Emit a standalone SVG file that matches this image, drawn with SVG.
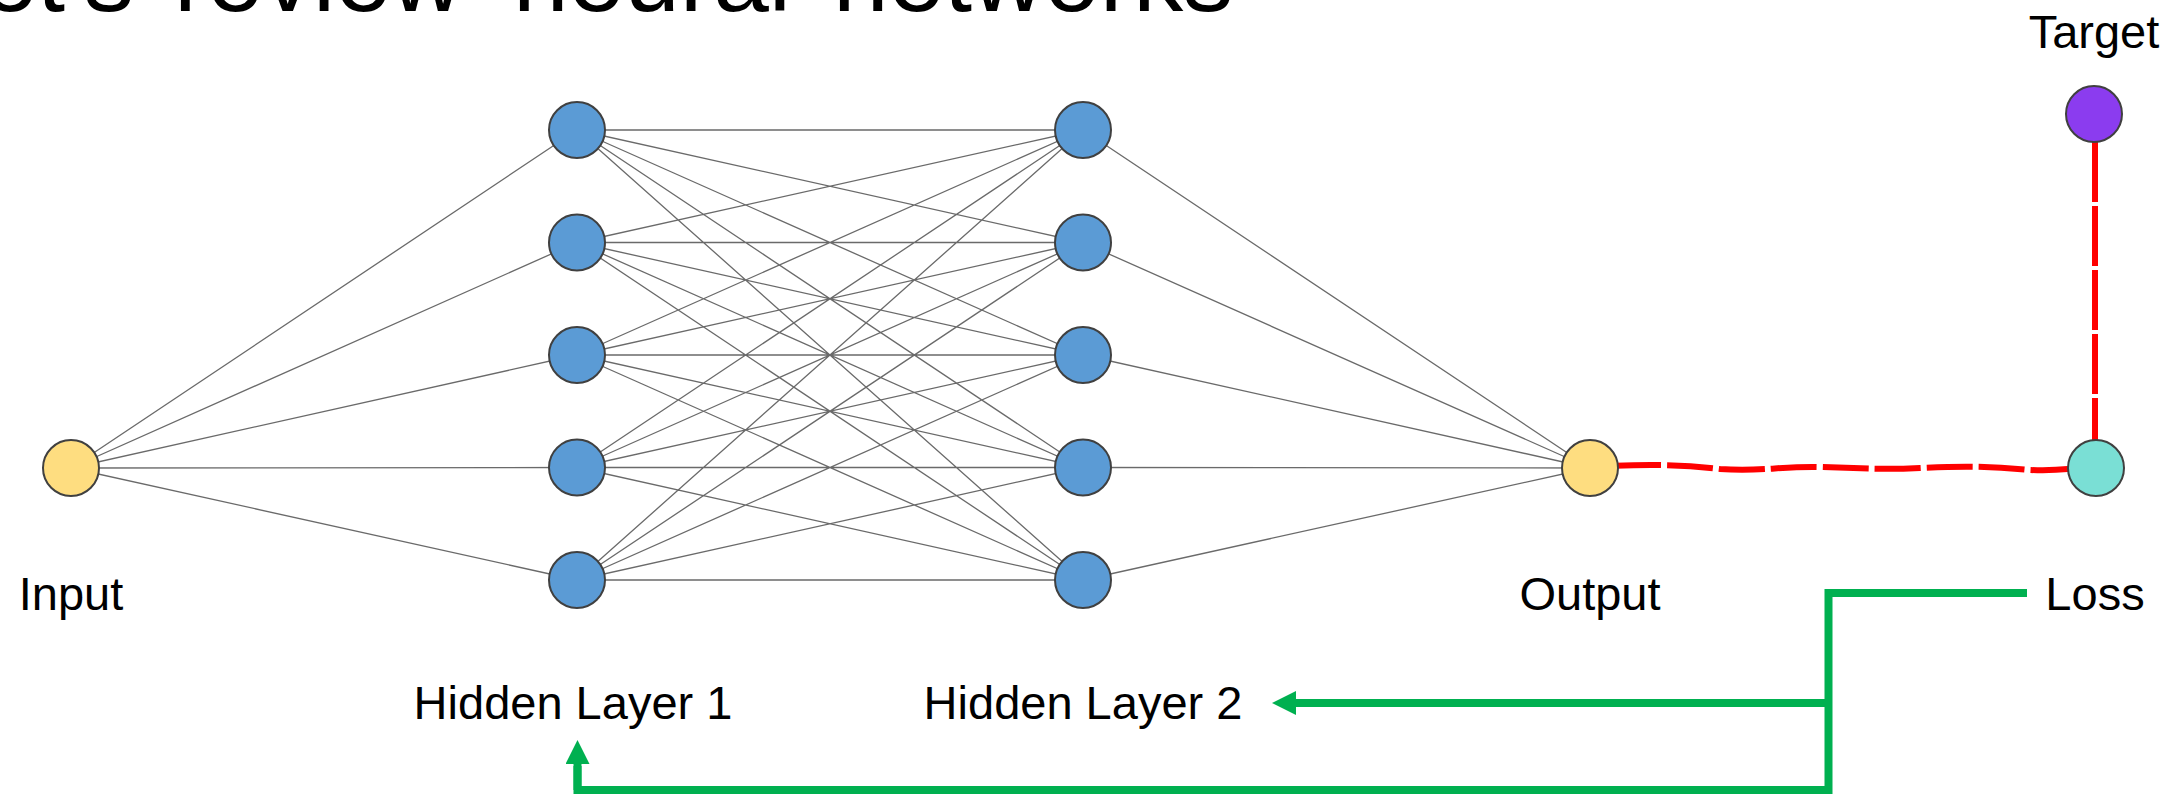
<svg xmlns="http://www.w3.org/2000/svg" width="2172" height="794" viewBox="0 0 2172 794">
<defs>
<style>
.lbl{font-family:"Liberation Sans",Arial,sans-serif;font-size:47px;fill:#000;text-anchor:middle}
.title{font-family:"Liberation Sans",Arial,sans-serif;font-size:100px;fill:#000}
.node{stroke:#404040;stroke-width:2}
.io{fill:#FEDD80}
.hid{fill:#5B9BD5}
.w{stroke:#6a6a6a;stroke-width:1.3;fill:none}
.red{stroke:#FF0000;stroke-width:6;fill:none}
.green{stroke:#00B050;stroke-width:8;fill:none}
</style>
<marker id="ah" markerUnits="userSpaceOnUse" markerWidth="24" markerHeight="24" refX="0" refY="12" orient="auto" viewBox="0 0 24 24">
<path d="M0,0 L24,12 L0,24 Z" fill="#00B050"/>
</marker>
</defs>
<rect width="2172" height="794" fill="#fff"/>
<text class="title" y="11"><tspan x="-74">Let's</tspan><tspan x="174">review</tspan><tspan x="513">neural</tspan><tspan x="833">networks</tspan></text>
<g id="connectors">
<g id="weights">
<path class="w" d="M71,468 L577,130 M71,468 L577,242.5 M71,468 L577,355 M71,468 L577,467.5 M71,468 L577,580"/>
<path class="w" d="M577,130 L1083,130 M577,130 L1083,242.5 M577,130 L1083,355 M577,130 L1083,467.5 M577,130 L1083,580
M577,242.5 L1083,130 M577,242.5 L1083,242.5 M577,242.5 L1083,355 M577,242.5 L1083,467.5 M577,242.5 L1083,580
M577,355 L1083,130 M577,355 L1083,242.5 M577,355 L1083,355 M577,355 L1083,467.5 M577,355 L1083,580
M577,467.5 L1083,130 M577,467.5 L1083,242.5 M577,467.5 L1083,355 M577,467.5 L1083,467.5 M577,467.5 L1083,580
M577,580 L1083,130 M577,580 L1083,242.5 M577,580 L1083,355 M577,580 L1083,467.5 M577,580 L1083,580"/>
<path class="w" d="M1083,130 L1590,468 M1083,242.5 L1590,468 M1083,355 L1590,468 M1083,467.5 L1590,468 M1083,580 L1590,468"/>
</g>
<path id="loss-h" class="red" stroke-dasharray="46 6" stroke-dashoffset="27" d="M1590,467 C1640,464 1680,464 1720,469 C1760,472 1780,466 1820,467 C1860,468 1880,470 1920,468 C1960,466 1990,466 2030,470 C2050,471 2070,468 2096,468"/>
<path id="loss-v" class="red" stroke-dasharray="60 4" d="M2095,142 L2095,440"/>
<path id="backprop" class="green" d="M2027,593 H1828.5 V790 H577.5 V766"/>
<path id="backprop-1" class="green" d="M577.5,790 V764" marker-end="url(#ah)"/>
<path id="backprop-2" class="green" d="M1828.5,703 H1296" marker-end="url(#ah)"/>
</g>
<g id="input"><circle class="node io" cx="71" cy="468" r="28"/><text class="lbl" x="71" y="610">Input</text></g>
<g id="h1">
<circle id="h1-1" class="node hid" cx="577" cy="130" r="28"/>
<circle id="h1-2" class="node hid" cx="577" cy="242.5" r="28"/>
<circle id="h1-3" class="node hid" cx="577" cy="355" r="28"/>
<circle id="h1-4" class="node hid" cx="577" cy="467.5" r="28"/>
<circle id="h1-5" class="node hid" cx="577" cy="580" r="28"/>
<text class="lbl" x="573" y="719">Hidden Layer 1</text>
</g>
<g id="h2">
<circle id="h2-1" class="node hid" cx="1083" cy="130" r="28"/>
<circle id="h2-2" class="node hid" cx="1083" cy="242.5" r="28"/>
<circle id="h2-3" class="node hid" cx="1083" cy="355" r="28"/>
<circle id="h2-4" class="node hid" cx="1083" cy="467.5" r="28"/>
<circle id="h2-5" class="node hid" cx="1083" cy="580" r="28"/>
<text class="lbl" x="1083" y="719">Hidden Layer 2</text>
</g>
<g id="output"><circle class="node io" cx="1590" cy="468" r="28"/><text class="lbl" x="1590" y="610">Output</text></g>
<g id="loss"><circle class="node" fill="#7ADFD5" cx="2096" cy="468" r="28"/><text class="lbl" x="2095" y="610">Loss</text></g>
<g id="target"><circle class="node" fill="#8B3CEF" cx="2094" cy="114" r="28"/><text class="lbl" x="2094" y="48">Target</text></g>
</svg>
